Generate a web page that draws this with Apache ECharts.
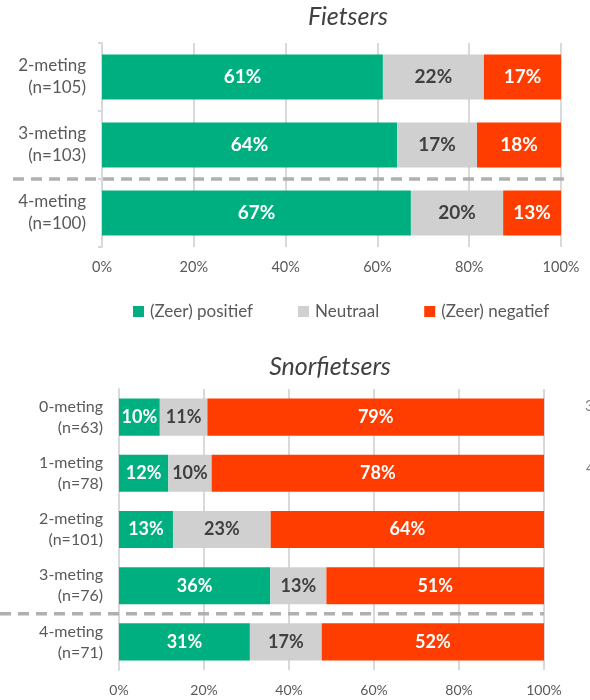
<!DOCTYPE html>
<html>
<head>
<meta charset="utf-8">
<script src="https://cdn.jsdelivr.net/npm/echarts@6/dist/echarts.min.js"></script>
<style>
  html, body { margin: 0; padding: 0; background: #fff; }
  #main { width: 590px; height: 700px; }
</style>
</head>
<body>
<div id="main"></div>
<script>
// categorieen
var fietsCats = ['2-meting\n(n=105)', '3-meting\n(n=103)', '4-meting\n(n=100)'];
var snorCats = ['0-meting\n(n=63)', '1-meting\n(n=78)', '2-meting\n(n=101)', '3-meting\n(n=76)', '4-meting\n(n=71)'];

// Fietsers (%)
var fietsPositief = [61.2, 64.3, 67.3];
var fietsNeutraal = [22.0, 17.4, 20.1];
var fietsNegatief = [16.8, 18.3, 12.6];

// Snorfietsers (%)
var snorPositief = [9.6, 11.6, 12.7, 35.6, 30.8];
var snorNeutraal = [11.2, 10.2, 23.0, 13.2, 16.9];
var snorNegatief = [79.2, 78.2, 64.3, 51.2, 52.3];

var xTicks = [0, 20, 40, 60, 80, 100];

var names = ['(Zeer) positief', 'Neutraal', '(Zeer) negatief'];
var colors = ['#00AF80', '#D0D0D0', '#FF3D00'];
var labelColors = ['#ffffff', '#404040', '#ffffff'];
var font = 'Lato, "Open Sans", sans-serif';

var chart = echarts.init(document.getElementById('main'));

function xAxis(gridIndex, size) {
    return {
        type: 'value', gridIndex: gridIndex,
        min: xTicks[0], max: xTicks[xTicks.length - 1], interval: 20,
        axisLine: {show: false}, axisTick: {show: false},
        axisLabel: {formatter: '{value}%', color: '#595959', fontSize: size, fontFamily: font, margin: 13},
        splitLine: {show: true, lineStyle: {color: '#d9d9d9', width: 2}}
    };
}

function yAxis(gridIndex, cats, size, lh) {
    return {
        type: 'category', gridIndex: gridIndex, data: cats, inverse: true,
        axisLine: {show: true, lineStyle: {color: '#d9d9d9', width: 2}},
        axisTick: {show: gridIndex === 0, length: 4, lineStyle: {color: '#d9d9d9', width: 2}},
        axisLabel: {color: '#595959', fontSize: size, lineHeight: lh, fontFamily: font, margin: 16, align: 'right'}
    };
}

function makeSeries(gridIndex, lists, fontSize) {
    return lists.map(function(d, i){
        return {
            name: names[i], type: 'bar', stack: 'g' + gridIndex,
            xAxisIndex: gridIndex, yAxisIndex: gridIndex,
            barWidth: '66%', data: d,
            itemStyle: {color: colors[i]},
            label: {
                show: true, position: 'inside',
                formatter: function(p){ return Math.round(p.value) + '%'; },
                color: labelColors[i], fontWeight: 'bold', fontSize: fontSize, fontFamily: font
            }
        };
    });
}

var option = {
    animation: false,
    backgroundColor: '#fff',
    grid: [
        {left: 102, right: 29, top: 43, height: 204},
        {left: 119, right: 46, top: 389, height: 281}
    ],
    legend: {
        left: 128, top: 298, itemWidth: 11, itemHeight: 11, itemGap: 45,
        icon: 'rect', data: names,
        textStyle: {color: '#595959', fontSize: 17, fontFamily: font, padding: [0, 0, 0, 1]}
    },
    xAxis: [xAxis(0, 14.5), xAxis(1, 14)],
    yAxis: [yAxis(0, fietsCats, 17, 22), yAxis(1, snorCats, 16, 21)],
    series: makeSeries(0, [fietsPositief, fietsNeutraal, fietsNegatief], 19)
        .concat(makeSeries(1, [snorPositief, snorNeutraal, snorNegatief], 18))
};
chart.setOption(option);

// stippellijn tussen 3- en 4-meting + titels
var y1a = chart.convertToPixel({yAxisIndex: 0}, fietsCats[1]);
var y1b = chart.convertToPixel({yAxisIndex: 0}, fietsCats[2]);
var y2a = chart.convertToPixel({yAxisIndex: 1}, snorCats[3]);
var y2b = chart.convertToPixel({yAxisIndex: 1}, snorCats[4]);
var dash = {stroke: '#b0b0b0', lineWidth: 3.5, lineDash: [11, 7]};

chart.setOption({
    graphic: [
        {type: 'line', shape: {x1: 13, y1: (y1a + y1b) / 2, x2: 569, y2: (y1a + y1b) / 2}, style: dash, z: 10},
        {type: 'line', shape: {x1: 0, y1: (y2a + y2b) / 2, x2: 544, y2: (y2a + y2b) / 2}, style: dash, z: 10},
        {type: 'text', x: 348, y: 17, style: {text: 'Fietsers', fontSize: 25, fontStyle: 'italic', fontFamily: font, fill: '#404040', textAlign: 'center', textVerticalAlign: 'middle'}},
        {type: 'text', x: 330, y: 367, style: {text: 'Snorfietsers', fontSize: 25, fontStyle: 'italic', fontFamily: font, fill: '#404040', textAlign: 'center', textVerticalAlign: 'middle'}},
        {type: 'text', x: 585, y: 406, style: {text: '3', fontSize: 15, fontFamily: font, fill: '#808080', textVerticalAlign: 'middle'}},
        {type: 'text', x: 586, y: 468, style: {text: '4', fontSize: 15, fontFamily: font, fill: '#808080', textVerticalAlign: 'middle'}}
    ]
});
</script>
</body>
</html>
